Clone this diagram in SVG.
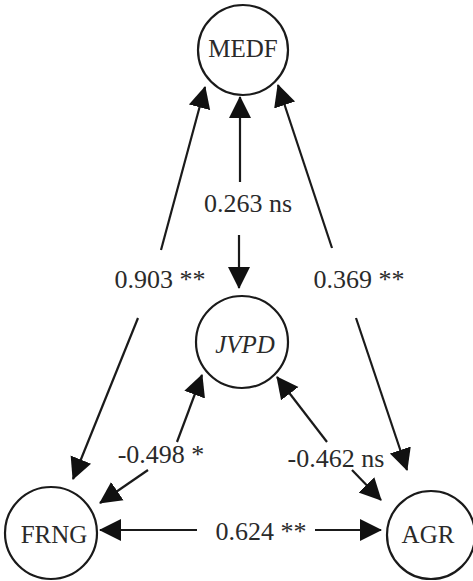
<svg xmlns="http://www.w3.org/2000/svg" width="473" height="581" viewBox="0 0 473 581">
  <style>
    .node circle { fill: #fff; stroke: #1a1a1a; stroke-width: 2.2; }
    .node text { font-family: "Liberation Serif", "Times New Roman", serif; font-size: 25px; fill: #2a2a2a; text-anchor: middle; }
    .edges line { stroke: #1a1a1a; stroke-width: 2.2; fill: none; }
    .lbl { font-family: "Liberation Serif", "Times New Roman", serif; font-size: 26px; fill: #2a2a2a; text-anchor: middle; }
  </style>
  <defs>
    <marker id="arr" markerUnits="userSpaceOnUse" markerWidth="22" markerHeight="24" viewBox="0 0 22 24" refX="21" refY="12" orient="auto">
      <path d="M0,1 L22,12 L0,23 Z" fill="#111"/>
    </marker>
  </defs>
  <rect width="473" height="581" fill="#fff"/>

  <g class="edges">
    <!-- MEDF <-> JVPD -->
    <line x1="240" y1="182" x2="240" y2="97" marker-end="url(#arr)"/>
    <line x1="239" y1="235" x2="239" y2="288" marker-end="url(#arr)"/>
    <!-- MEDF <-> FRNG -->
    <line x1="161" y1="250" x2="205" y2="87" marker-end="url(#arr)"/>
    <line x1="138" y1="318" x2="73" y2="479" marker-end="url(#arr)"/>
    <!-- MEDF <-> AGR -->
    <line x1="332" y1="248" x2="278" y2="85" marker-end="url(#arr)"/>
    <line x1="356" y1="318" x2="407" y2="470" marker-end="url(#arr)"/>
    <!-- JVPD <-> FRNG -->
    <line x1="177" y1="442" x2="202" y2="375" marker-end="url(#arr)"/>
    <line x1="148" y1="470" x2="100" y2="503" marker-end="url(#arr)"/>
    <!-- JVPD <-> AGR -->
    <line x1="327" y1="442" x2="277" y2="377" marker-end="url(#arr)"/>
    <line x1="352" y1="470" x2="381" y2="500" marker-end="url(#arr)"/>
    <!-- FRNG <-> AGR -->
    <line x1="197" y1="530" x2="100" y2="530" marker-end="url(#arr)"/>
    <line x1="315" y1="530" x2="381" y2="530" marker-end="url(#arr)"/>

    <text class="lbl" x="248" y="212">0.263 ns</text>
    <text class="lbl" x="160" y="288">0.903 **</text>
    <text class="lbl" x="359" y="288">0.369 **</text>
    <text class="lbl" x="161" y="463">-0.498 *</text>
    <text class="lbl" x="336" y="467">-0.462 ns</text>
    <text class="lbl" x="261" y="540">0.624 **</text>
  </g>

  <g id="MEDF" class="node">
    <circle cx="243" cy="50" r="45"/>
    <text x="243" y="57">MEDF</text>
  </g>
  <g id="JVPD" class="node">
    <circle cx="242" cy="342" r="46"/>
    <text x="245" y="353" font-style="italic">JVPD</text>
  </g>
  <g id="FRNG" class="node">
    <circle cx="51" cy="533" r="46"/>
    <text x="54" y="543">FRNG</text>
  </g>
  <g id="AGR" class="node">
    <circle cx="431" cy="535" r="44"/>
    <text x="428" y="543">AGR</text>
  </g>
</svg>
